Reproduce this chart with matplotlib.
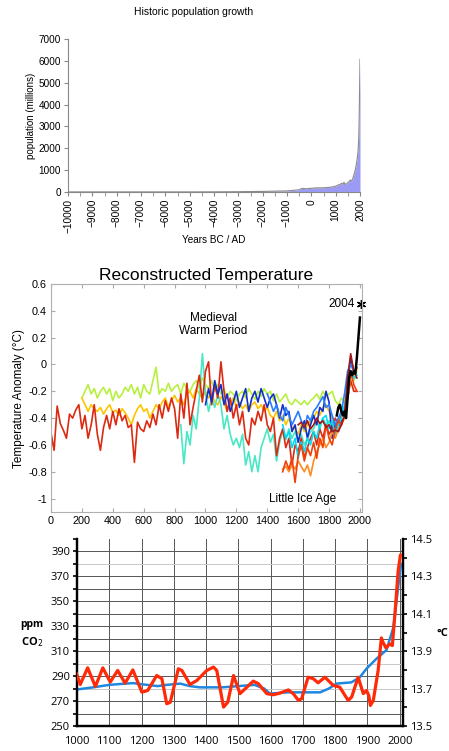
import matplotlib
matplotlib.use("Agg")
import matplotlib.pyplot as plt
import numpy as np
from matplotlib.ticker import MultipleLocator

# ---------------- Data: population ----------------
pop_years = [-10000, -8000, -6000, -5000, -4000, -3000, -2000, -1000, -500, -400, -200, 1,
             200, 400, 600, 800, 1000, 1100, 1200, 1250, 1300, 1340, 1400, 1450, 1500,
             1600, 1650, 1700, 1750, 1800, 1850, 1900, 1927, 1950, 1960, 1970, 1980,
             1990, 2000]
pop_values = [4, 5, 5, 5, 7, 14, 27, 50, 100, 162, 150, 170,
              190, 190, 200, 220, 265, 320, 360, 400, 360, 443, 350, 375, 425,
              545, 500, 600, 790, 980, 1260, 1650, 2000, 2520, 3020, 3700, 4440,
              5270, 6070]

# ---------------- Data: reconstructed temperature ----------------
red_years = list(range(0, 2000, 20))
red_vals = [-0.51, -0.64, -0.31, -0.44, -0.49, -0.55, -0.37, -0.40, -0.34, -0.30,
            -0.48, -0.38, -0.55, -0.45, -0.30, -0.52, -0.64, -0.47, -0.38, -0.48,
            -0.35, -0.45, -0.33, -0.42, -0.38, -0.47, -0.45, -0.73, -0.43, -0.48,
            -0.50, -0.42, -0.47, -0.37, -0.45, -0.30, -0.40, -0.27, -0.35, -0.25,
            -0.33, -0.55, -0.22, -0.40, -0.14, -0.45, -0.32, -0.20, -0.08, -0.28,
            -0.05, 0.02, -0.30, -0.15, -0.25, 0.02, -0.20, -0.35, -0.25, -0.40,
            -0.30, -0.45, -0.35, -0.55, -0.60, -0.40, -0.45, -0.35, -0.42, -0.30,
            -0.45, -0.50, -0.40, -0.68, -0.55, -0.48, -0.62, -0.55, -0.75, -0.60,
            -0.65, -0.55, -0.70, -0.62, -0.55, -0.50, -0.60, -0.48, -0.55, -0.45,
            -0.52, -0.48, -0.40, -0.45, -0.38, -0.35, -0.25, -0.12, -0.20, -0.20]

lgreen_years = list(range(200, 2000, 20))
lgreen_vals = [-0.25, -0.20, -0.15, -0.22, -0.18, -0.25, -0.20, -0.17, -0.22, -0.18,
               -0.27, -0.20, -0.25, -0.22, -0.17, -0.20, -0.15, -0.22, -0.17, -0.25,
               -0.15, -0.20, -0.22, -0.12, -0.02, -0.22, -0.18, -0.20, -0.14, -0.20,
               -0.17, -0.15, -0.22, -0.14, -0.18, -0.20, -0.15, -0.12, -0.18, -0.10,
               -0.15, -0.18, -0.12, -0.20, -0.15, -0.22, -0.18, -0.25, -0.20, -0.22,
               -0.27, -0.22, -0.20, -0.25, -0.18, -0.22, -0.26, -0.20, -0.24, -0.18,
               -0.22, -0.20, -0.27, -0.22, -0.28, -0.25, -0.22, -0.28, -0.30, -0.26,
               -0.28, -0.30, -0.27, -0.30, -0.27, -0.25, -0.22, -0.26, -0.20, -0.24,
               -0.22, -0.20, -0.27, -0.30, -0.25, -0.28, -0.20, -0.10, -0.12, -0.05]

gold_years = list(range(200, 2000, 20))
gold_vals = [-0.25, -0.30, -0.35, -0.30, -0.33, -0.35, -0.32, -0.37, -0.33, -0.30,
             -0.36, -0.34, -0.38, -0.33, -0.36, -0.40, -0.45, -0.38, -0.33, -0.30,
             -0.35, -0.33, -0.40, -0.35, -0.30, -0.33, -0.28, -0.25, -0.32, -0.27,
             -0.23, -0.28, -0.25, -0.30, -0.22, -0.20, -0.25, -0.18, -0.22, -0.25,
             -0.20, -0.25, -0.22, -0.28, -0.30, -0.24, -0.28, -0.35, -0.30, -0.25,
             -0.32, -0.28, -0.33, -0.30, -0.35, -0.30, -0.28, -0.33, -0.30, -0.35,
             -0.32, -0.38, -0.40, -0.35, -0.42, -0.38, -0.45, -0.40, -0.47, -0.48,
             -0.52, -0.45, -0.50, -0.45, -0.42, -0.40, -0.35, -0.38, -0.32, -0.30,
             -0.35, -0.40, -0.45, -0.42, -0.38, -0.35, -0.25, -0.10, -0.08, -0.03]

aqua_years = list(range(840, 2000, 20))
aqua_vals = [-0.45, -0.74, -0.50, -0.60, -0.38, -0.48, -0.25, 0.08, -0.22, -0.35,
             -0.25, -0.32, -0.22, -0.30, -0.48, -0.38, -0.52, -0.60, -0.55, -0.62,
             -0.52, -0.75, -0.65, -0.80, -0.68, -0.80, -0.62, -0.55, -0.48, -0.58,
             -0.52, -0.72, -0.58, -0.50, -0.56, -0.48, -0.55, -0.50, -0.58, -0.52,
             -0.60, -0.55, -0.50, -0.48, -0.42, -0.48, -0.40, -0.45, -0.42, -0.50,
             -0.45, -0.40, -0.38, -0.35, -0.22, -0.08, -0.10, -0.10]

dblue_years = list(range(1000, 2000, 20))
dblue_vals = [-0.30, -0.18, -0.28, -0.12, -0.22, -0.15, -0.30, -0.22, -0.35, -0.28,
              -0.20, -0.32, -0.25, -0.18, -0.35, -0.25, -0.20, -0.28, -0.18, -0.25,
              -0.32, -0.25, -0.22, -0.30, -0.40, -0.30, -0.38, -0.35, -0.50, -0.45,
              -0.58, -0.48, -0.42, -0.55, -0.45, -0.38, -0.45, -0.32, -0.35, -0.20,
              -0.28, -0.55, -0.45, -0.50, -0.42, -0.40, -0.15, 0.05, -0.05, -0.03]

mblue_years = list(range(1400, 2000, 20))
mblue_vals = [-0.22, -0.28, -0.35, -0.30, -0.38, -0.42, -0.32, -0.38, -0.45, -0.40,
              -0.35, -0.42, -0.48, -0.38, -0.42, -0.35, -0.32, -0.28, -0.24, -0.32,
              -0.30, -0.38, -0.45, -0.40, -0.35, -0.22, -0.05, 0.00, -0.05, -0.02]

cyan_years = list(range(1500, 2000, 20))
cyan_vals = [-0.45, -0.55, -0.50, -0.62, -0.55, -0.70, -0.58, -0.65, -0.55, -0.60,
             -0.50, -0.55, -0.45, -0.40, -0.38, -0.48, -0.42, -0.52, -0.45, -0.40,
             -0.30, -0.18, -0.05, -0.10, -0.08]

orange_years = list(range(1500, 2000, 20))
orange_vals = [-0.78, -0.76, -0.80, -0.75, -0.78, -0.72, -0.76, -0.80, -0.75, -0.83,
               -0.72, -0.65, -0.60, -0.55, -0.62, -0.58, -0.50, -0.55, -0.48, -0.45,
               -0.40, -0.25, -0.08, -0.05, -0.03]

ored_years = list(range(1500, 2000, 20))
ored_vals = [-0.80, -0.72, -0.78, -0.70, -0.88, -0.68, -0.60, -0.72, -0.62, -0.68,
             -0.58, -0.70, -0.55, -0.62, -0.45, -0.55, -0.60, -0.48, -0.42, -0.45,
             -0.38, -0.20, -0.05, -0.15, -0.20]

maroon_years = list(range(1600, 2000, 20))
maroon_vals = [-0.45, -0.43, -0.47, -0.42, -0.48, -0.45, -0.40, -0.44, -0.42, -0.47,
               -0.45, -0.50, -0.49, -0.50, -0.45, -0.38, -0.10, 0.08, -0.05, -0.10]

black_years = [1850, 1860, 1870, 1880, 1890, 1900, 1910, 1920, 1930, 1940, 1950,
               1960, 1970, 1980, 1990, 2000]
black_vals = [-0.38, -0.32, -0.30, -0.35, -0.38, -0.35, -0.40, -0.25, -0.10, -0.05,
              -0.08, -0.05, -0.07, 0.05, 0.20, 0.35]
star_year = 2004
star_val = 0.45

# ---------------- Data: CO2 and temperature ----------------
co2_years = [1000, 1050, 1100, 1150, 1175, 1200, 1250, 1278, 1320, 1350, 1381, 1450,
             1500, 1550, 1580, 1598, 1650, 1700, 1753, 1780, 1804, 1850, 1876, 1897,
             1928, 1959, 1980, 2000, 2004]
co2_vals = [279.3, 281, 283, 284, 284.4, 283.5, 282, 283, 284, 282, 281, 281,
            282, 283, 280, 276, 277, 277, 277, 280, 284, 285, 289, 296,
            304, 311, 329, 372, 380]

temp_years = [998, 1010, 1033, 1057, 1080, 1103, 1126, 1149, 1173, 1201, 1219, 1247,
              1263, 1278, 1289, 1314, 1325, 1350, 1371, 1402, 1423, 1433, 1454, 1467,
              1485, 1505, 1521, 1546, 1562, 1588, 1608, 1629, 1655, 1670, 1686, 1696,
              1716, 1732, 1747, 1768, 1794, 1814, 1840, 1851, 1871, 1887, 1897, 1904,
              1909, 1918, 1933, 1943, 1948, 1957, 1969, 1977, 1985, 1995, 2002]
temp_vals = [13.783, 13.722, 13.811, 13.711, 13.811, 13.735, 13.797, 13.729, 13.800,
             13.681, 13.690, 13.770, 13.753, 13.619, 13.627, 13.806, 13.797, 13.722,
             13.743, 13.797, 13.815, 13.797, 13.601, 13.627, 13.770, 13.673, 13.699,
             13.740, 13.726, 13.673, 13.667, 13.676, 13.693, 13.673, 13.637, 13.646,
             13.761, 13.753, 13.731, 13.761, 13.717, 13.708, 13.637, 13.655, 13.761,
             13.673, 13.690, 13.663, 13.610, 13.637, 13.797, 13.971, 13.948, 13.918,
             13.939, 13.930, 14.099, 14.330, 14.415]

W, H = 449, 751
fig = plt.figure(figsize=(W / 100, H / 100), dpi=100)

def box(l, t, r, b):
    return [l / W, 1 - b / H, (r - l) / W, (b - t) / H]

# ================= Panel 1: population =================
ax1 = fig.add_axes(box(68, 39, 360, 192))
ax1.fill_between(pop_years, pop_values, 0, color="#9b9bf5", linewidth=0)
ax1.plot(pop_years, pop_values, color="#8a8a8a", lw=0.8)
ax1.set_xlim(-10000, 2000)
ax1.set_ylim(0, 7000)
for s in ["top", "right"]:
    ax1.spines[s].set_visible(False)
for s in ["left", "bottom"]:
    ax1.spines[s].set_color("#888888")
    ax1.spines[s].set_linewidth(0.8)
ax1.xaxis.set_major_locator(MultipleLocator(1000))
ax1.xaxis.set_minor_locator(MultipleLocator(500))
ax1.yaxis.set_major_locator(MultipleLocator(1000))
ax1.tick_params(axis="x", which="both", direction="out", length=3, color="#888888",
                labelsize=7.3, labelrotation=90, pad=2)
ax1.tick_params(axis="y", which="both", direction="out", length=3, color="#888888",
                labelsize=7.2, pad=2)
for lab in ax1.get_xticklabels() + ax1.get_yticklabels():
    lab.set_fontfamily("Liberation Sans")
ax1.set_ylabel("population (millions)", fontsize=7, family="Liberation Sans", labelpad=2)
fig.text(214 / W, 1 - 240 / H, "Years BC / AD", ha="center", va="center",
         fontsize=7.2, family="Liberation Sans")
fig.text(194 / W, 1 - 12 / H, "Historic population growth", ha="center", va="center",
         fontsize=7.5, family="Liberation Sans")

# ================= Panel 2: reconstructed temperature =================
ax2 = fig.add_axes(box(51, 284, 361.5, 512))
series = [
    (lgreen_years, lgreen_vals, "#b8f040"),
    (gold_years, gold_vals, "#ffc400"),
    (aqua_years, aqua_vals, "#48e8c4"),
    (red_years, red_vals, "#dc2a12"),
    (dblue_years, dblue_vals, "#1430c8"),
    (mblue_years, mblue_vals, "#2a7cff"),
    (cyan_years, cyan_vals, "#00dcf4"),
    (orange_years, orange_vals, "#ff8a20"),
    (ored_years, ored_vals, "#f0400c"),
    (maroon_years, maroon_vals, "#a01818"),
]
for xs, ys, c in series:
    ax2.plot(xs, ys, color=c, lw=1.2, solid_joinstyle="round")
ax2.plot(black_years, black_vals, color="black", lw=1.8)
ax2.plot([star_year], [star_val], marker=(6, 2, 0), color="black", ms=6.5, mew=1.0,
         clip_on=False)
ax2.text(star_year - 38, star_val, "2004", ha="right", va="center", fontsize=8.5,
         family="Liberation Sans")
ax2.text(1050, 0.30, "Medieval\nWarm Period", ha="center", va="center", fontsize=8.5,
         family="Liberation Sans", linespacing=1.1)
ax2.text(1630, -1.0, "Little Ice Age", ha="center", va="center", fontsize=8.5,
         family="Liberation Sans")
ax2.set_xlim(0, 2010)
ax2.set_ylim(-1.1, 0.6)
ax2.xaxis.set_major_locator(MultipleLocator(200))
ax2.set_yticks([0.6, 0.4, 0.2, 0, -0.2, -0.4, -0.6, -0.8, -1])
ax2.set_yticklabels(["0.6", "0.4", "0.2", "0", "-0.2", "-0.4", "-0.6", "-0.8", "-1"])
ax2.tick_params(direction="in", length=3, color="#aaaaaa", top=True, right=True,
                labelsize=7.8, pad=3)
for lab in ax2.get_xticklabels() + ax2.get_yticklabels():
    lab.set_fontfamily("Liberation Sans")
for s in ax2.spines.values():
    s.set_color("#b0b0b0")
    s.set_linewidth(0.8)
ax2.set_ylabel("Temperature Anomaly (\u00b0C)", fontsize=8.5, family="Liberation Sans",
               labelpad=2)
ax2.set_title("Reconstructed Temperature", fontsize=12.5, family="Liberation Sans", pad=3)

# ================= Panel 3: CO2 and temperature =================
ax3 = fig.add_axes(box(77, 539, 403, 726))
ax3.set_xlim(1000, 2010)
ax3.set_ylim(250, 400)
for v in range(1000, 2001, 100):
    ax3.axvline(v, color="#555555", lw=0.7, zorder=0)
for v in range(260, 400, 10):
    c = "#c8c8c8" if v in (300, 280, 380) else "#555555"
    ax3.axhline(v, color=c, lw=0.7, zorder=0)
ax3.plot(co2_years, co2_vals, color="#1e88e0", lw=1.8, zorder=3, solid_capstyle="round")
ax3.spines["top"].set_visible(False)
for s in ["left", "bottom", "right"]:
    ax3.spines[s].set_color("black")
    ax3.spines[s].set_linewidth(1.6)
ax3.set_xticks(range(1000, 2001, 100))
ax3.set_yticks(range(250, 391, 20))
ax3.yaxis.set_minor_locator(MultipleLocator(10))
ax3.tick_params(axis="y", which="both", direction="out", length=3, width=1.2, labelsize=8,
                pad=2)
ax3.tick_params(axis="x", which="both", length=0, labelsize=8, pad=7)
for lab in ax3.get_xticklabels() + ax3.get_yticklabels():
    lab.set_fontfamily("Open Sans")

ax4 = ax3.twinx()
ax4.set_ylim(13.5, 14.5)
ax4.plot(temp_years, temp_vals, color="#ff2a08", lw=2.3, zorder=4, solid_joinstyle="round",
         solid_capstyle="round")
ax4.set_yticks([13.5, 13.7, 13.9, 14.1, 14.3, 14.5])
ax4.set_yticklabels(["13.5", "13.7", "13.9", "14.1", "14.3", "14.5"])
ax4.yaxis.set_minor_locator(MultipleLocator(0.1))
ax4.tick_params(axis="y", which="both", direction="out", length=3, width=1.2, labelsize=8,
                pad=2)
for lab in ax4.get_yticklabels():
    lab.set_fontfamily("Open Sans")
ax4.spines["top"].set_visible(False)
for s in ["left", "bottom", "right"]:
    ax4.spines[s].set_color("black")
    ax4.spines[s].set_linewidth(1.6)

fig.text(32 / W, 1 - 624 / H, "ppm", ha="center", va="center", fontsize=7.5,
         fontweight="bold", family="Open Sans")
fig.text(32 / W, 1 - 642 / H, "CO$_2$", ha="center", va="center", fontsize=8,
         fontweight="bold", family="Open Sans")
fig.text(442 / W, 1 - 633 / H, "\u00b0C", ha="center", va="center", fontsize=8,
         fontweight="bold", family="Open Sans")

fig.savefig("out.png", dpi=100)
